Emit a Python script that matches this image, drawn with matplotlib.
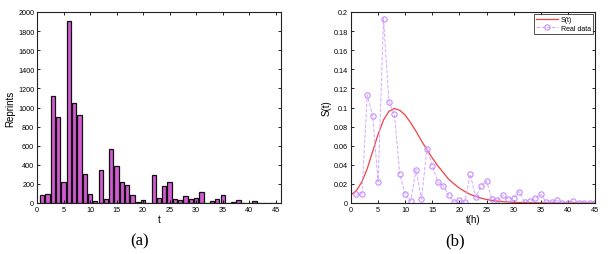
import matplotlib
matplotlib.use("Agg")
import matplotlib.pyplot as plt

# ---------------- data ----------------
t_days = list(range(1, 46))
reprints = [85, 90, 1120, 905, 220, 1910, 1050, 920, 300, 95,
            20, 345, 40, 565, 385, 215, 185, 85, 10, 30,
            5, 295, 55, 175, 225, 45, 30, 75, 40, 55,
            120, 5, 20, 45, 85, 5, 10, 30, 2, 2,
            20, 2, 2, 2, 2]

real_data = [0.009, 0.009, 0.113, 0.091, 0.022, 0.193, 0.106, 0.093, 0.030, 0.009,
             0.002, 0.035, 0.004, 0.057, 0.039, 0.022, 0.018, 0.008, 0.001, 0.003,
             0.001, 0.030, 0.006, 0.018, 0.023, 0.004, 0.003, 0.008, 0.004, 0.005,
             0.012, 0.001, 0.002, 0.005, 0.009, 0.001, 0.001, 0.003, 0.0, 0.0,
             0.002, 0.0, 0.0, 0.0, 0.0]

s_t = [0, 1, 2, 3, 4, 5, 6, 7, 8, 9, 10, 11, 12, 13, 14, 15, 16, 17, 18, 19,
       20, 21, 22, 23, 24, 25, 26, 27, 28, 29, 30, 32, 35, 40, 45]
s_val = [0.0085, 0.013, 0.022, 0.036, 0.054, 0.072, 0.087, 0.096, 0.099, 0.097,
         0.092, 0.084, 0.075, 0.065, 0.056, 0.047, 0.039, 0.032, 0.025, 0.020,
         0.0155, 0.012, 0.009, 0.0068, 0.005, 0.0037, 0.0027, 0.002, 0.0014, 0.001,
         0.0007, 0.0004, 0.0002, 0.0001, 0.0]

left_xticks = [0, 5, 10, 15, 20, 25, 30, 35, 40, 45]
left_yticks = [0, 200, 400, 600, 800, 1000, 1200, 1400, 1600, 1800, 2000]
right_yticks = [0, 0.02, 0.04, 0.06, 0.08, 0.1, 0.12, 0.14, 0.16, 0.18, 0.2]
right_yticklabels = ["0", "0.02", "0.04", "0.06", "0.08", "0.1", "0.12",
                     "0.14", "0.16", "0.18", "0.2"]

# ---------------- figure ----------------
plt.rcParams['font.family'] = ['Liberation Sans', 'DejaVu Sans']
W, H = 609, 255
fig = plt.figure(figsize=(W / 100, H / 100), dpi=100)

def pos(x0, y0, x1, y1):
    return [x0 / W, 1 - y1 / H, (x1 - x0) / W, (y1 - y0) / H]

def style(ax):
    ax.tick_params(direction='in', length=2.5, width=0.6, labelsize=5.2,
                   top=True, right=True, pad=2)
    for sp in ax.spines.values():
        sp.set_linewidth(0.8)
        sp.set_color('#222222')

# (a)
ax1 = fig.add_axes(pos(37, 13, 281, 204))
ax1.bar(t_days, reprints, width=0.8, color='#D05CD0', edgecolor='#111111',
        linewidth=0.9)
ax1.set_xlim(0, 46)
ax1.set_ylim(0, 2000)
ax1.set_xticks(left_xticks)
ax1.set_yticks(left_yticks)
ax1.set_xlabel('t', fontsize=7, labelpad=1)
ax1.set_ylabel('Reprints', fontsize=7, labelpad=2)
style(ax1)

# (b)
ax2 = fig.add_axes(pos(351, 13, 595, 204))
ax2.plot(s_t, s_val, color='#F04040', linewidth=0.9, label='S(t)')
ax2.plot(t_days, real_data, linestyle='--', color='#D4AAFF', linewidth=0.7,
         marker='o', markersize=3.8, markerfacecolor='none',
         markeredgecolor='#C58CFF', markeredgewidth=0.8, label='Real data')
ax2.set_xlim(0, 45)
ax2.set_ylim(0, 0.2)
ax2.set_xticks(left_xticks)
ax2.set_yticks(right_yticks)
ax2.set_yticklabels(right_yticklabels)
ax2.set_xlabel('t(h)', fontsize=7, labelpad=1)
ax2.set_ylabel('S(t)', fontsize=7, labelpad=2)
style(ax2)
leg = ax2.legend(loc='upper right', fontsize=5, frameon=True, fancybox=False,
                 edgecolor='black', handlelength=3.2, borderpad=0.3,
                 labelspacing=0.2, borderaxespad=0.3, handletextpad=0.4)
leg.get_frame().set_linewidth(0.6)

fig.text(140 / W, 1 - 241 / H, '(a)', ha='center', va='center',
         fontsize=12, family='Liberation Serif')
fig.text(455 / W, 1 - 241 / H, '(b)', ha='center', va='center',
         fontsize=12, family='Liberation Serif')

fig.savefig('out.png', dpi=100)
